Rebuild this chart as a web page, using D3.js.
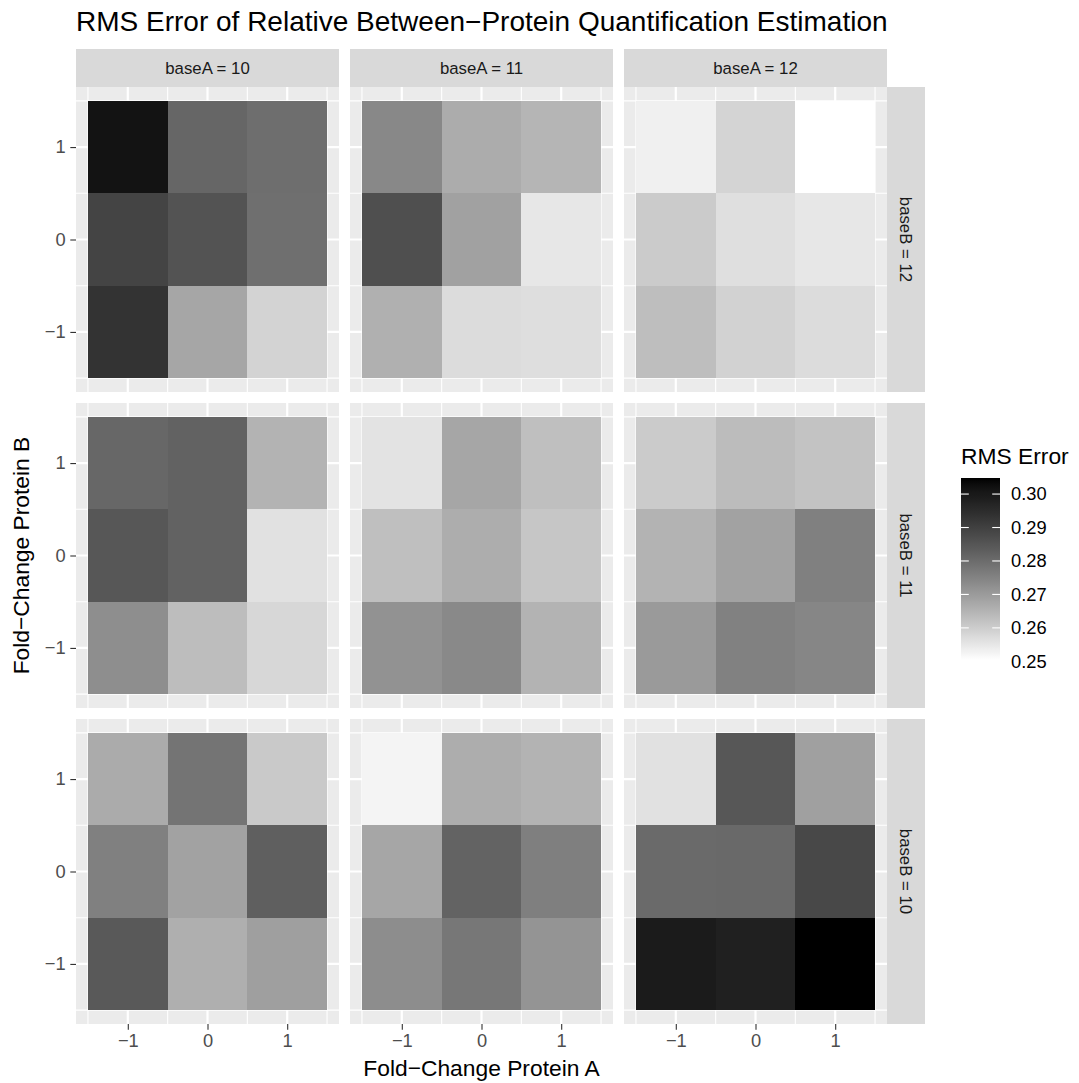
<!DOCTYPE html>
<html>
<head>
<meta charset="utf-8">
<script src="https://cdn.jsdelivr.net/npm/d3@7"></script>
<style>
  html, body { margin: 0; padding: 0; background: #fff; }
  svg { display: block; font-family: "Liberation Sans", Arial, sans-serif; }
</style>
</head>
<body>
<svg id="chart" width="1079" height="1083"></svg>
<script>
// Facet levels: columns by baseA, rows by baseB (top to bottom)
const baseA = [10, 11, 12];
const baseB = [12, 11, 10];
// Fold-change levels on each panel's axes
const foldA = [-1, 0, 1];
const foldB = [1, 0, -1];
const tickValues = [-1, 0, 1];
const legendBreaks = [0.25, 0.26, 0.27, 0.28, 0.29, 0.30];

// RMS error per panel; 9 values each, rows foldB = 1, 0, -1, columns foldA = -1, 0, 1
const errA10B12 = [0.3016, 0.2813, 0.2796,  0.2891, 0.2856, 0.2793,  0.2932, 0.2678, 0.2588];
const errA11B12 = [0.2740, 0.2666, 0.2647,  0.2865, 0.2688, 0.2550,  0.2657, 0.2571, 0.2567];
const errA12B12 = [0.2532, 0.2586, 0.2504,  0.2604, 0.2565, 0.2550,  0.2629, 0.2590, 0.2571];
const errA10B11 = [0.2811, 0.2822, 0.2651,  0.2847, 0.2822, 0.2561,  0.2727, 0.2631, 0.2581];
const errA11B11 = [0.2557, 0.2678, 0.2628,  0.2628, 0.2663, 0.2614,  0.2719, 0.2737, 0.2651];
const errA12B11 = [0.2604, 0.2633, 0.2619,  0.2651, 0.2686, 0.2757,  0.2702, 0.2755, 0.2744];
const errA10B10 = [0.2667, 0.2783, 0.2608,  0.2757, 0.2686, 0.2829,  0.2842, 0.2659, 0.2692];
const errA11B10 = [0.2524, 0.2663, 0.2651,  0.2678, 0.2820, 0.2759,  0.2729, 0.2776, 0.2715];
const errA12B10 = [0.2561, 0.2847, 0.2690,  0.2804, 0.2807, 0.2882,  0.2995, 0.2981, 0.3048];

const panelErrors = {
  "10_12": errA10B12, "11_12": errA11B12, "12_12": errA12B12,
  "10_11": errA10B11, "11_11": errA11B11, "12_11": errA12B11,
  "10_10": errA10B10, "11_10": errA11B10, "12_10": errA12B10
};

// Long-format records for drawing tiles
const records = [];
baseB.forEach(bB => baseA.forEach(bA => {
  const vals = panelErrors[bA + "_" + bB];
  foldB.forEach((fB, i) => foldA.forEach((fA, j) => {
    records.push({ baseA: bA, baseB: bB, foldA: fA, foldB: fB, rms: vals[i * 3 + j] });
  }));
}));

// Layout
const svg = d3.select("#chart");
const panelW = 263, panelH = 305, gap = 11;
const plotLeft = 76, plotTop = 87, stripH = 38;
const smallText = 18.3, stripText = 16.8, axisTitleSize = 22.8;

const colX = d3.scaleOrdinal().domain(baseA).range(baseA.map((d, i) => plotLeft + i * (panelW + gap)));
const rowY = d3.scaleOrdinal().domain(baseB).range(baseB.map((d, i) => plotTop + i * (panelH + gap)));

const x = d3.scaleLinear().domain([-1.65, 1.65]).range([0, panelW]);
const y = d3.scaleLinear().domain([-1.65, 1.65]).range([panelH, 0]);

const extent = d3.extent(records, d => d.rms);
const fill = d3.scaleLinear().domain(extent).range(["#ffffff", "#000000"]).interpolate(d3.interpolateLab);

const gridMajor = [-1, 0, 1];
const gridMinor = [-1.5, -0.5, 0.5, 1.5];

baseB.forEach(bB => baseA.forEach(bA => {
  const g = svg.append("g").attr("transform", `translate(${colX(bA)},${rowY(bB)})`);
  g.append("rect").attr("width", panelW).attr("height", panelH).attr("fill", "#EBEBEB");
  gridMinor.forEach(v => {
    g.append("line").attr("x1", x(v)).attr("x2", x(v)).attr("y1", 0).attr("y2", panelH)
      .attr("stroke", "#fff").attr("stroke-width", 1.1);
    g.append("line").attr("y1", y(v)).attr("y2", y(v)).attr("x1", 0).attr("x2", panelW)
      .attr("stroke", "#fff").attr("stroke-width", 1.1);
  });
  gridMajor.forEach(v => {
    g.append("line").attr("x1", x(v)).attr("x2", x(v)).attr("y1", 0).attr("y2", panelH)
      .attr("stroke", "#fff").attr("stroke-width", 2.2);
    g.append("line").attr("y1", y(v)).attr("y2", y(v)).attr("x1", 0).attr("x2", panelW)
      .attr("stroke", "#fff").attr("stroke-width", 2.2);
  });
  const tiles = records.filter(d => d.baseA === bA && d.baseB === bB);
  g.selectAll("rect.tile").data(tiles).enter().append("rect")
    .attr("class", "tile")
    .attr("x", d => x(d.foldA - 0.5))
    .attr("y", d => y(d.foldB + 0.5))
    .attr("width", d => x(d.foldA + 0.5) - x(d.foldA - 0.5))
    .attr("height", d => y(d.foldB - 0.5) - y(d.foldB + 0.5))
    .attr("fill", d => fill(d.rms))
    .attr("shape-rendering", "crispEdges");
}));

// Top strips
baseA.forEach(bA => {
  const g = svg.append("g").attr("transform", `translate(${colX(bA)},${plotTop - stripH})`);
  g.append("rect").attr("width", panelW).attr("height", stripH).attr("fill", "#D9D9D9");
  g.append("text").attr("x", panelW / 2).attr("y", stripH / 2).attr("dy", "0.35em")
    .attr("text-anchor", "middle").attr("font-size", stripText).attr("fill", "#1A1A1A")
    .text(`baseA = ${bA}`);
});

// Right strips
const stripX = plotLeft + 3 * panelW + 2 * gap;
baseB.forEach(bB => {
  const g = svg.append("g").attr("transform", `translate(${stripX},${rowY(bB)})`);
  g.append("rect").attr("width", stripH).attr("height", panelH).attr("fill", "#D9D9D9");
  g.append("text").attr("transform", `translate(${stripH / 2},${panelH / 2}) rotate(90)`)
    .attr("dy", "0.35em").attr("text-anchor", "middle").attr("font-size", stripText).attr("fill", "#1A1A1A")
    .text(`baseB = ${bB}`);
});

// Axes: y on the left column, x on the bottom row
const fmtTick = d => d < 0 ? "\u2212" + Math.abs(d) : String(d);
const axisStyle = sel => {
  sel.select(".domain").remove();
  sel.selectAll(".tick line").attr("stroke", "#333333").attr("stroke-width", 1.1);
  sel.selectAll(".tick text").attr("fill", "#4D4D4D").attr("font-size", smallText)
    .attr("font-family", "Liberation Sans, Arial, sans-serif");
};
baseB.forEach(bB => {
  svg.append("g").attr("transform", `translate(${plotLeft},${rowY(bB)})`)
    .call(d3.axisLeft(y).tickValues(tickValues).tickSize(5.7).tickPadding(4.6).tickFormat(fmtTick))
    .call(axisStyle);
});
baseA.forEach(bA => {
  svg.append("g").attr("transform", `translate(${colX(bA)},${rowY(10) + panelH})`)
    .call(d3.axisBottom(x).tickValues(tickValues).tickSize(5.7).tickPadding(4.6).tickFormat(fmtTick))
    .call(axisStyle);
});

// Titles
const plotRight = plotLeft + 3 * panelW + 2 * gap;
svg.append("text").attr("x", plotLeft).attr("y", 31).attr("font-size", 28).attr("fill", "#000")
  .text("RMS Error of Relative Between\u2212Protein Quantification Estimation");
svg.append("text").attr("x", (plotLeft + plotRight) / 2).attr("y", 1076).attr("text-anchor", "middle")
  .attr("font-size", axisTitleSize).attr("fill", "#000").text("Fold\u2212Change Protein A");
svg.append("text").attr("transform", `translate(29,${(plotTop + rowY(10) + panelH) / 2}) rotate(-90)`)
  .attr("text-anchor", "middle").attr("font-size", axisTitleSize).attr("fill", "#000").text("Fold\u2212Change Protein B");

// Colour bar legend
const barX = 961, barW = 39, barTop = 478, barBottom = 660;
const lg = svg.append("g");
lg.append("text").attr("x", barX).attr("y", 464).attr("font-size", axisTitleSize).attr("fill", "#000").text("RMS Error");
const grad = svg.append("defs").append("linearGradient").attr("id", "rmsGrad")
  .attr("x1", 0).attr("y1", 1).attr("x2", 0).attr("y2", 0);
d3.range(0, 1.0001, 0.02).forEach(t => {
  grad.append("stop").attr("offset", t).attr("stop-color", fill(extent[0] + t * (extent[1] - extent[0])));
});
lg.append("rect").attr("x", barX).attr("y", barTop).attr("width", barW).attr("height", barBottom - barTop)
  .attr("fill", "url(#rmsGrad)");
const ly = d3.scaleLinear().domain(extent).range([barBottom, barTop]);
legendBreaks.forEach(b => {
  if (b >= extent[0] && b <= extent[1]) {
    lg.append("line").attr("x1", barX).attr("x2", barX + 7.8).attr("y1", ly(b)).attr("y2", ly(b))
      .attr("stroke", "#fff").attr("stroke-width", 1.1);
    lg.append("line").attr("x1", barX + barW - 7.8).attr("x2", barX + barW).attr("y1", ly(b)).attr("y2", ly(b))
      .attr("stroke", "#fff").attr("stroke-width", 1.1);
  }
  lg.append("text").attr("x", barX + barW + 11).attr("y", ly(b)).attr("dy", "0.35em")
    .attr("font-size", smallText).attr("fill", "#000").text(b.toFixed(2));
});
</script>
</body>
</html>
